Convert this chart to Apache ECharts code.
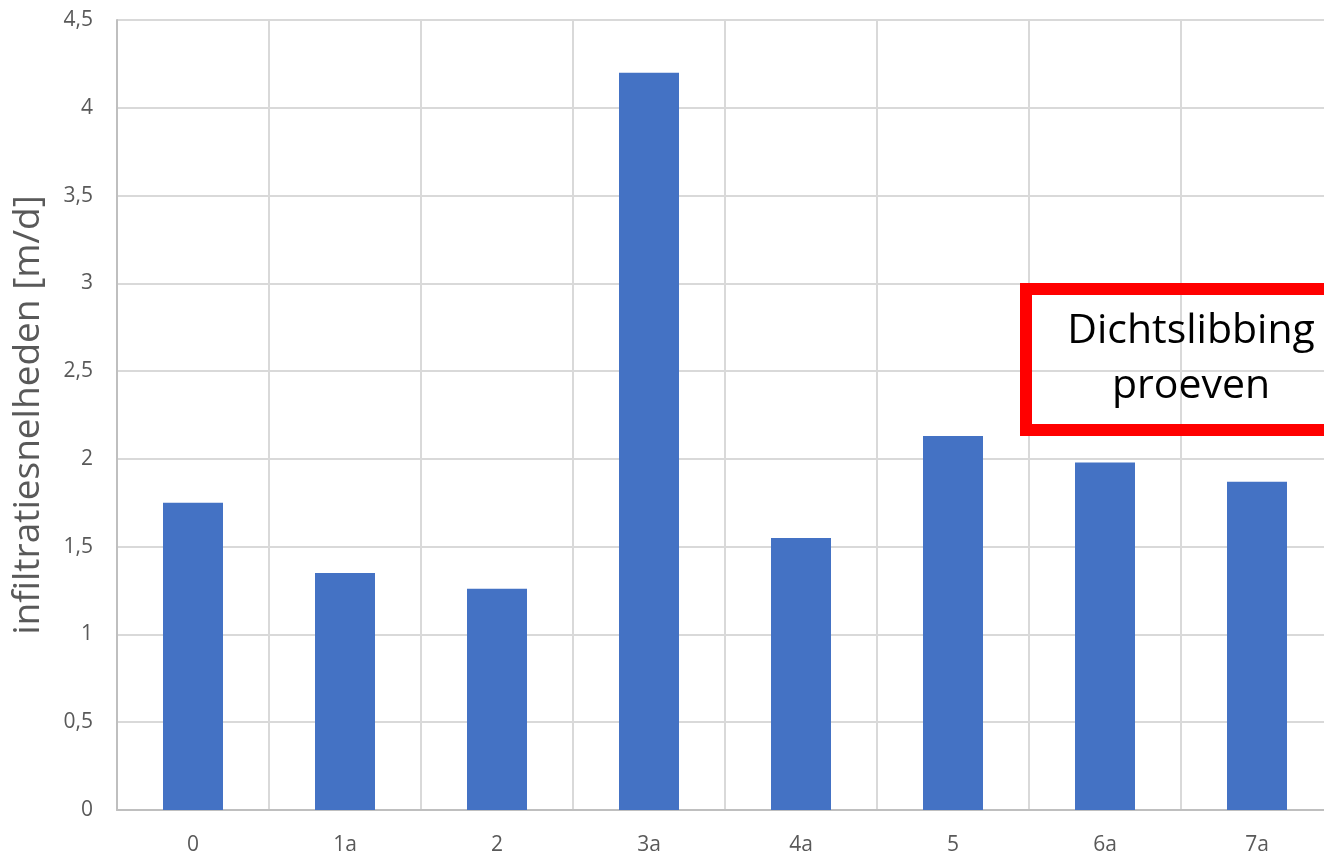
<!DOCTYPE html>
<html>
<head>
<meta charset="utf-8">
<script src="https://cdn.jsdelivr.net/npm/echarts@6/dist/echarts.min.js"></script>
<style>
  html, body { margin: 0; padding: 0; background: #fff; overflow: hidden; }
  #chart { width: 1324px; height: 857px; }
</style>
</head>
<body>
<div id="chart"></div>
<script>
// Proefvakken en gemeten infiltratiesnelheid (m/d)
const categories = ['0', '1a', '2', '3a', '4a', '5', '6a', '7a'];
const infiltration = [1.75, 1.35, 1.26, 4.2, 1.55, 2.13, 1.98, 1.87];
const yAxisTitle = 'infiltratiesnelheden [m/d]';
const noteLines = ['Dichtslibbing', 'proeven'];

const chart = echarts.init(document.getElementById('chart'), null, { renderer: 'canvas' });

const fmt = v => String(v).replace('.', ',');

chart.setOption({
  animation: false,
  // the plot runs slightly past the right edge of the canvas
  grid: {
    left: 117, top: 20, right: -9, bottom: 47,
    containLabel: false,
    outerBoundsMode: 'none'
  },
  xAxis: {
    type: 'category',
    data: categories,
    boundaryGap: true,
    axisLine: { show: true, lineStyle: { color: '#bfbfbf', width: 2 } },
    axisTick: { show: false },
    axisLabel: { color: '#595959', fontSize: 21, fontFamily: 'Open Sans', margin: 25 },
    splitLine: { show: true, interval: 0, lineStyle: { color: '#d9d9d9', width: 2 } }
  },
  yAxis: {
    type: 'value',
    min: 0, max: 4.5, interval: 0.5,
    name: yAxisTitle,
    nameLocation: 'middle',
    nameGap: 70,
    nameTextStyle: { color: '#595959', fontSize: 37, fontFamily: 'Open Sans' },
    axisLine: { show: true, lineStyle: { color: '#bfbfbf', width: 2 } },
    axisTick: { show: false },
    axisLabel: { color: '#595959', fontSize: 21, fontFamily: 'Open Sans', margin: 24, formatter: fmt },
    splitLine: { show: true, lineStyle: { color: '#d9d9d9', width: 2 } }
  },
  series: [{
    type: 'bar',
    data: infiltration,
    barWidth: 60,
    itemStyle: { color: '#4472c4' }
  }],
  graphic: [
    {
      type: 'rect',
      shape: { x: 1026, y: 289, width: 400, height: 141 },
      style: { fill: 'rgba(0,0,0,0)', stroke: '#ff0000', lineWidth: 12 },
      z: 100
    },
    {
      type: 'text',
      x: 1191, y: 331,
      style: {
        text: noteLines[0], fill: '#000', fontSize: 41, fontFamily: 'Open Sans',
        textAlign: 'center', textVerticalAlign: 'middle'
      },
      z: 101
    },
    {
      type: 'text',
      x: 1191, y: 386,
      style: {
        text: noteLines[1], fill: '#000', fontSize: 41, fontFamily: 'Open Sans',
        textAlign: 'center', textVerticalAlign: 'middle'
      },
      z: 101
    }
  ]
});
</script>
</body>
</html>
